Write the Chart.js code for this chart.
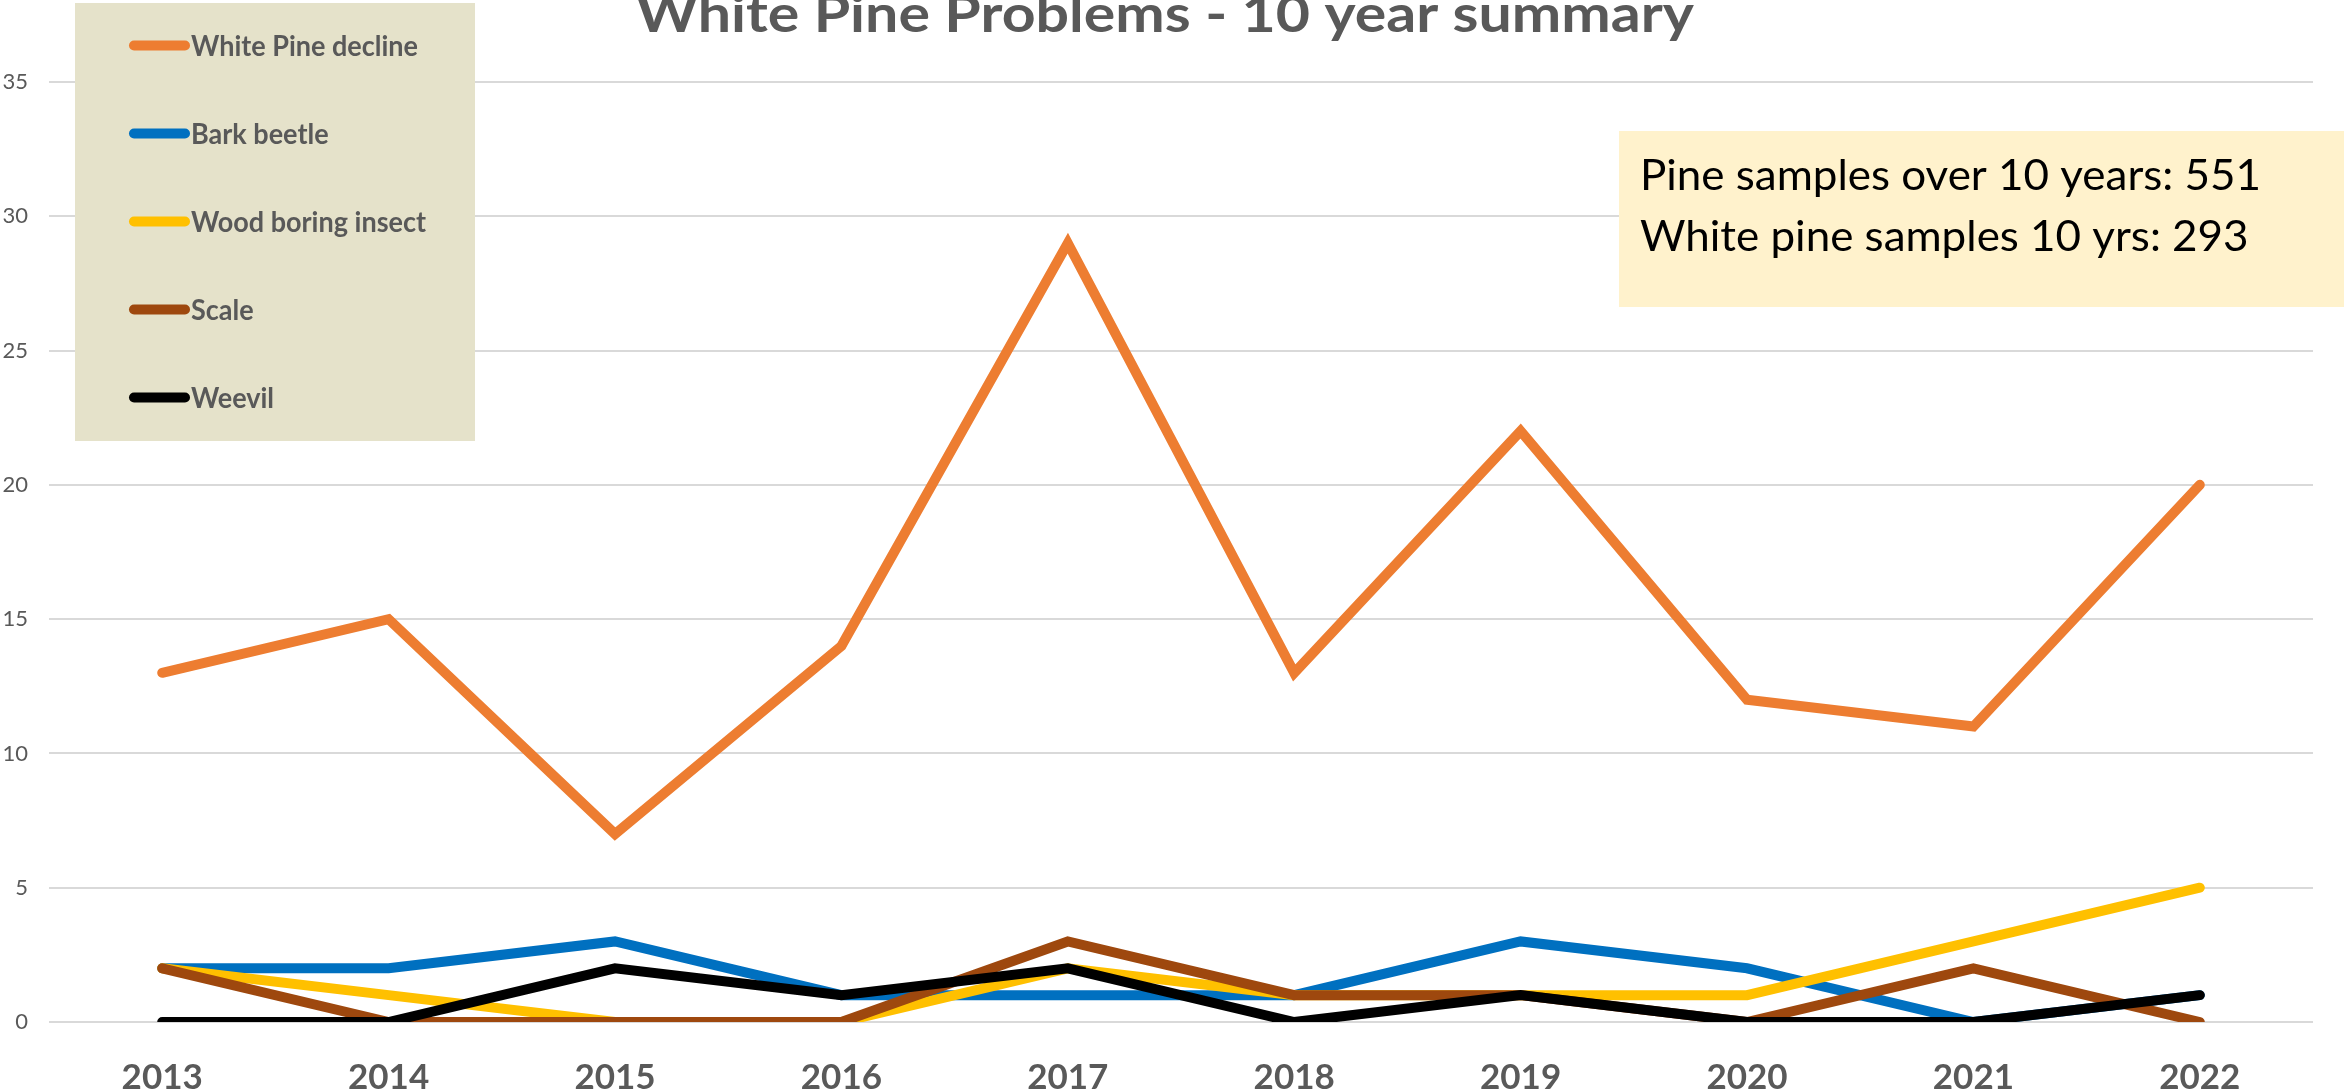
<!DOCTYPE html>
<html>
<head>
<meta charset="utf-8">
<title>White Pine Problems - 10 year summary</title>
<script src="https://cdn.jsdelivr.net/npm/chart.js@4.4.1/dist/chart.umd.min.js"></script>
<style>
  html, body { margin: 0; padding: 0; background: #ffffff; overflow: hidden; }
  canvas { display: block; }
</style>
</head>
<body>
<canvas id="chart" width="2344" height="1091"></canvas>
<script>
// ---- data ----
const years = ['2013', '2014', '2015', '2016', '2017', '2018', '2019', '2020', '2021', '2022'];
const whitePineDecline = [13, 15, 7, 14, 29, 13, 22, 12, 11, 20];
const barkBeetle       = [2, 2, 3, 1, 1, 1, 3, 2, 0, 1];
const woodBoringInsect = [2, 1, 0, 0, 2, 1, 1, 1, 3, 5];
const scaleInsect      = [2, 0, 0, 0, 3, 1, 1, 0, 2, 0];
const weevil           = [0, 0, 2, 1, 2, 0, 1, 0, 0, 1];
const seriesNames = ['White Pine decline', 'Bark beetle', 'Wood boring insect', 'Scale', 'Weevil'];
const yTickRange = { min: 0, max: 35, step: 5 };
const chartTitle = 'White Pine Problems - 10 year summary';
const noteLines = ['Pine samples over 10 years: 551', 'White pine samples 10 yrs: 293'];

// ---- styles ----
const FONT = 'Lato, "Noto Sans", sans-serif';
const GREY_TEXT = '#595959';
const seriesColors = ['#ED7D31', '#0070C0', '#FFC000', '#9E480E', '#000000'];

const layoutBoxes = {
  title:  { cx: 1165, baseline: 32, size: 52, width: 1058 },
  legend: { x: 75, y: 3, w: 400, h: 438, bg: '#E5E2CA', firstY: 45.5, stepY: 88,
            lineX1: 134, lineX2: 185, textX: 191, size: 29, refWidth: 227 },
  note:   { x: 1619, y: 131, w: 725, h: 176, bg: '#FFF2CC', textX: 1640,
            baselines: [190, 251], size: 43, refWidth: 621 }
};

// draws text squeezed/stretched horizontally by factor sx
function drawScaledText(ctx, text, x, y, sx, align) {
  ctx.save();
  ctx.translate(x, y);
  ctx.scale(sx, 1);
  ctx.textAlign = align;
  ctx.fillText(text, 0, 0);
  ctx.restore();
}

const decorPlugin = {
  id: 'decor',
  beforeDatasetsDraw(chart) {
    const ctx = chart.ctx;
    // legend panel
    const L = layoutBoxes.legend;
    ctx.save();
    ctx.fillStyle = L.bg;
    ctx.fillRect(L.x, L.y, L.w, L.h);
    ctx.font = `bold ${L.size}px ${FONT}`;
    const sxL = L.refWidth / ctx.measureText(chart.data.datasets[0].label).width;
    const capL = L.size * 0.72;
    chart.data.datasets.forEach((ds, i) => {
      const cy = L.firstY + i * L.stepY;
      ctx.strokeStyle = ds.borderColor;
      ctx.lineWidth = 10;
      ctx.lineCap = 'round';
      ctx.beginPath();
      ctx.moveTo(L.lineX1, cy);
      ctx.lineTo(L.lineX2, cy);
      ctx.stroke();
      ctx.fillStyle = GREY_TEXT;
      ctx.textBaseline = 'alphabetic';
      drawScaledText(ctx, ds.label, L.textX, cy + capL / 2, sxL, 'left');
    });
    // sample-count note
    const N = layoutBoxes.note;
    ctx.fillStyle = N.bg;
    ctx.fillRect(N.x, N.y, N.w, N.h);
    ctx.fillStyle = '#000000';
    ctx.font = `${N.size}px ${FONT}`;
    const sxN = N.refWidth / ctx.measureText(noteLines[0]).width;
    noteLines.forEach((line, i) => {
      drawScaledText(ctx, line, N.textX, N.baselines[i], sxN, 'left');
    });
    ctx.restore();
  },
  afterDraw(chart) {
    const ctx = chart.ctx;
    const T = layoutBoxes.title;
    ctx.save();
    ctx.fillStyle = GREY_TEXT;
    ctx.font = `bold ${T.size}px ${FONT}`;
    ctx.textBaseline = 'alphabetic';
    const sx = T.width / ctx.measureText(chartTitle).width;
    drawScaledText(ctx, chartTitle, T.cx, T.baseline, sx, 'center');
    ctx.restore();
  }
};

const seriesValues = [whitePineDecline, barkBeetle, woodBoringInsect, scaleInsect, weevil];
const datasets = seriesValues.map((vals, i) => ({
  label: seriesNames[i],
  data: vals,
  borderColor: seriesColors[i],
  backgroundColor: seriesColors[i],
  borderWidth: 10,
  borderCapStyle: 'round',
  borderJoinStyle: 'miter',
  pointRadius: 0,
  pointHoverRadius: 0,
  tension: 0,
  fill: false,
  // later series are painted above earlier ones
  order: seriesValues.length - 1 - i
}));

new Chart(document.getElementById('chart'), {
  type: 'line',
  data: { labels: years, datasets },
  options: {
    responsive: false,
    devicePixelRatio: 1,
    animation: false,
    layout: { padding: { top: 82, right: 31, bottom: 0, left: 0 } },
    plugins: {
      legend: { display: false },
      title: { display: false },
      tooltip: { enabled: false }
    },
    scales: {
      x: {
        type: 'category',
        offset: true,
        grid: { display: false },
        border: { display: false },
        ticks: {
          color: GREY_TEXT,
          padding: 27,
          maxRotation: 0,
          font: { family: FONT, size: 35, weight: 'bold' }
        },
        afterFit(s) { s.height = 69; }
      },
      y: {
        min: yTickRange.min,
        max: yTickRange.max,
        grid: { color: '#D9D9D9', lineWidth: 2, drawTicks: false },
        border: { display: false },
        ticks: {
          stepSize: yTickRange.step,
          color: GREY_TEXT,
          padding: 21,
          font: { family: FONT, size: 22 }
        },
        afterFit(s) { s.width = 49; }
      }
    }
  },
  plugins: [decorPlugin]
});
</script>
</body>
</html>
